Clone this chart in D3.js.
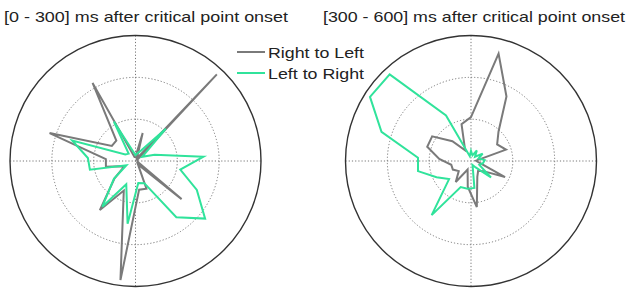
<!DOCTYPE html>
<html lang="en">
<head>
    <meta charset="UTF-8">
    <title>Polar</title>
    <script src="https://d3js.org/d3.v7.min.js"></script>
    <style>
        body { margin: 0; background: #fff; }
        text { font-family: "Liberation Sans", Arial, sans-serif; fill: #222; }
    </style>
</head>
<body>
<div id="chart"></div>

<script type=text/javascript>
    // angle bins in degrees (counter-clockwise from east)
    var binAngles = [3.6, 18.0, 32.4, 46.8, 61.2, 75.6, 90.0, 104.4, 118.8, 133.2, 147.6, 162.0, 176.4,
        190.8, 205.2, 219.6, 234.0, 248.4, 262.8, 277.2, 291.6, 306.0, 320.4, 334.8, 349.2];

    // [0 - 300] ms
    var earlyRightToLeft = [0.5, 0.5, 0.5, 28.4, 0.7, 6.9, 1.0, 1.0, 21.3, 6.7, 6.7, 21.6, 7.1,
        7.2, 2.9, 6.5, 14.5, 7.6, 28.7, 6.9, 7.1, 1.0, 14.3, 0.7, 0.5];
    var earlyLeftToRight = [16.3, 4.8, 1.9, 10.6, 2.9, 1.9, 1.4, 2.4, 10.7, 2.4, 2.9, 15.9, 11.4,
        11.1, 2.4, 6.7, 13.5, 6.0, 15.1, 5.3, 5.7, 16.6, 21.6, 16.2, 10.9];

    // [300 - 600] ms
    var lateRightToLeft = [1.2, 8.8, 7.4, 9.6, 17.6, 26.5, 10.5, 9.1, 2.9, 6.5, 11.0, 11.0, 7.6,
        4.8, 4.8, 3.8, 6.2, 2.2, 6.2, 11.1, 4.1, 2.9, 3.8, 9.0, 1.9];
    var lateLeftToRight = [3.3, 1.9, 3.3, 1.4, 2.9, 1.4, 2.4, 1.2, 12.4, 28.4, 28.6, 22.5, 12.7,
        12.9, 9.1, 6.8, 16.0, 6.7, 6.7, 6.5, 1.0, 1.9, 6.2, 2.2, 2.9];

    var ringValues = [10, 20, 30];
    var titles = ["[0 - 300] ms after critical point onset", "[300 - 600] ms after critical point onset"];
    var seriesNames = ["Right to Left", "Left to Right"];
    var seriesColors = ["#7a7a7a", "#30e39b"];

    var width = 629;
    var height = 291;
    var R = 125.5;

    var svg = d3.select("#chart")
        .append("svg")
        .attr("width", width)
        .attr("height", height);

    var r = d3.scaleLinear()
        .domain([0, d3.max(ringValues)])
        .range([0, R]);

    var line = d3.lineRadial()
        .angle(function (d) { return (90 - d[0]) * Math.PI / 180; })
        .radius(function (d) { return r(d[1]); })
        .curve(d3.curveLinearClosed);

    var panels = [
        {cx: 135.5, cy: 161, title: titles[0], tx: 4, tw: 284, series: [earlyRightToLeft, earlyLeftToRight]},
        {cx: 471, cy: 161, title: titles[1], tx: 323, tw: 302, series: [lateRightToLeft, lateLeftToRight]}
    ];

    panels.forEach(function (p) {
        var g = svg.append("g")
            .attr("transform", "translate(" + p.cx + "," + p.cy + ")");

        // dotted rings
        g.selectAll(".ring")
            .data(ringValues.slice(0, -1))
            .enter().append("circle")
            .attr("r", function (d) { return r(d); })
            .attr("fill", "none")
            .attr("stroke", "#777")
            .attr("stroke-width", 1)
            .attr("stroke-dasharray", "1.2,2");

        // dotted axes
        g.append("line")
            .attr("x1", -R).attr("x2", R).attr("y1", 0).attr("y2", 0)
            .attr("stroke", "#777").attr("stroke-width", 1).attr("stroke-dasharray", "1.2,2");
        g.append("line")
            .attr("x1", 0).attr("x2", 0).attr("y1", -R).attr("y2", R)
            .attr("stroke", "#777").attr("stroke-width", 1).attr("stroke-dasharray", "1.2,2");

        // outer circle
        g.append("circle")
            .attr("r", r(d3.max(ringValues)))
            .attr("fill", "none")
            .attr("stroke", "#333")
            .attr("stroke-width", 1.4);

        p.series.forEach(function (vals, i) {
            var pts = binAngles.map(function (a, k) { return [a, vals[k]]; });
            g.append("path")
                .attr("d", line(pts))
                .attr("fill", "none")
                .attr("stroke", seriesColors[i])
                .attr("stroke-width", 2)
                .attr("stroke-linejoin", "miter");
        });

        svg.append("text")
            .attr("x", p.tx)
            .attr("y", 22)
            .attr("font-size", "15px")
            .attr("textLength", p.tw)
            .attr("lengthAdjust", "spacingAndGlyphs")
            .text(p.title);
    });

    // legend
    var legend = svg.append("g");
    seriesNames.forEach(function (name, i) {
        var y = 52 + i * 21;
        legend.append("line")
            .attr("x1", 237).attr("x2", 265)
            .attr("y1", y).attr("y2", y)
            .attr("stroke", seriesColors[i])
            .attr("stroke-width", 2);
        legend.append("text")
            .attr("x", 268)
            .attr("y", y + 6)
            .attr("font-size", "15.5px")
            .attr("textLength", 96)
            .attr("lengthAdjust", "spacingAndGlyphs")
            .text(name);
    });
</script>
</body>
</html>
